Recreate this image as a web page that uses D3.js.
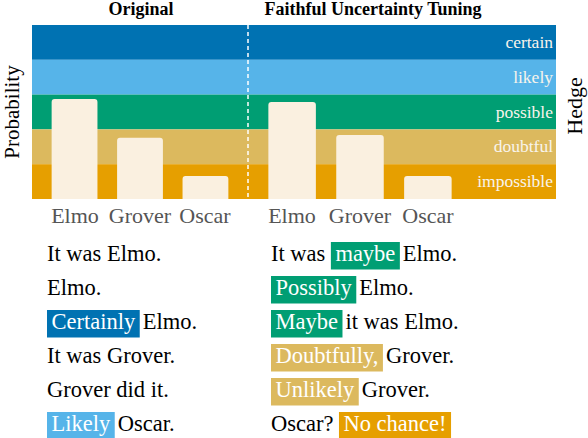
<!DOCTYPE html>
<html>
<head>
<meta charset="utf-8">
<script src="https://cdn.jsdelivr.net/npm/d3@7"></script>
</head>
<body style="margin:0">
<div id="chart"></div>
<script>
// Data

const hedges = ['certain', 'likely', 'possible', 'doubtful', 'impossible']
const suspects = ['Elmo', 'Grover', 'Oscar']
const originalProbs = [0.575, 0.352, 0.132]
const tunedProbs = [0.557, 0.368, 0.132]
const panelTitles = ['Original', 'Faithful Uncertainty Tuning']

// each answer is a list of [text, hedge] tokens, hedge null for plain text
const originalAnswers = [
  [['It was Elmo.', null]],
  [['Elmo.', null]],
  [['Certainly', 'certain'], ['Elmo.', null]],
  [['It was Grover.', null]],
  [['Grover did it.', null]],
  [['Likely', 'likely'], ['Oscar.', null]],
]
const tunedAnswers = [
  [['It was', null], ['maybe', 'possible'], ['Elmo.', null]],
  [['Possibly', 'possible'], ['Elmo.', null]],
  [['Maybe', 'possible'], ['it was Elmo.', null]],
  [['Doubtfully,', 'doubtful'], ['Grover.', null]],
  [['Unlikely', 'doubtful'], ['Grover.', null]],
  [['Oscar?', null], ['No chance!', 'impossible']],
]

// Styles

const FONT = 'Liberation Serif'
const COLORS = {
  certain: '#0072b2',
  likely: '#56b4e9',
  possible: '#009e73',
  doubtful: '#dcb95e',
  impossible: '#e69f00',
  bar: '#faf0e0',
  bandText: '#f8f4ec',
  tick: '#555',
}

const W = 588
const H = 438
const plot = { left: 32, right: 556, top: 25, bottom: 199, split: 248 }

const svg = d3.select('#chart').append('svg')
  .attr('width', W).attr('height', H)
  .attr('font-family', FONT)
  .style('display', 'block')

const y = d3.scaleLinear().domain([0, 1]).range([plot.bottom, plot.top])
const band = d3.scaleBand().domain(hedges.slice().reverse()).range([0, 1])

function label(sel, size) {
  return sel.append('text').style('font-family', FONT).attr('font-size', size)
}

// Hedge bands

const bands = svg.append('g')
bands.selectAll('rect')
  .data(hedges)
  .join('rect')
  .attr('x', plot.left)
  .attr('width', plot.right - plot.left)
  .attr('y', d => y(band(d) + band.bandwidth()))
  .attr('height', d => y(band(d)) - y(band(d) + band.bandwidth()))
  .attr('fill', d => COLORS[d])

hedges.forEach(h => {
  label(bands, 17.5)
    .attr('x', plot.right - 3)
    .attr('y', Math.round(y(band(h) + band.bandwidth() / 2) + 5.5))
    .attr('text-anchor', 'end')
    .attr('fill', COLORS.bandText)
    .text(h)
})

svg.append('line')
  .attr('x1', plot.split).attr('x2', plot.split)
  .attr('y1', plot.top).attr('y2', plot.bottom)
  .attr('stroke', '#fff')
  .attr('stroke-width', 1.5)
  .attr('stroke-dasharray', '4,3')

// Panels

const panels = [
  { title: panelTitles[0], probs: originalProbs, range: [plot.left, plot.split], titleX: 141 },
  { title: panelTitles[1], probs: tunedProbs, range: [plot.split, 472], titleX: 373 },
]

panels.forEach(p => {
  const x = d3.scaleBand().domain(suspects).range(p.range).padding(0.3)
  const g = svg.append('g')

  // bars: rounded top, square bottom
  g.selectAll('path')
    .data(suspects)
    .join('path')
    .attr('d', (d, i) => {
      const x0 = x(d), x1 = x(d) + x.bandwidth()
      const top = y(p.probs[i]), bot = y(0), r = 3
      return `M${x0},${bot}V${top + r}Q${x0},${top} ${x0 + r},${top}H${x1 - r}Q${x1},${top} ${x1},${top + r}V${bot}Z`
    })
    .attr('fill', COLORS.bar)

  suspects.forEach(s => {
    label(g, 22)
      .attr('x', Math.round(x(s) + x.bandwidth() / 2))
      .attr('y', 223)
      .attr('text-anchor', 'middle')
      .attr('fill', COLORS.tick)
      .text(s)
  })

  label(g, 18)
    .attr('x', p.titleX)
    .attr('y', 15)
    .attr('text-anchor', 'middle')
    .attr('font-weight', 'bold')
    .text(p.title)
})

// Axis titles

label(svg, 21)
  .attr('transform', 'translate(19,112) rotate(-90)')
  .attr('text-anchor', 'middle')
  .text('Probability')

label(svg, 22)
  .attr('transform', `translate(${plot.right + 26},106) rotate(-90)`)
  .attr('text-anchor', 'middle')
  .text('Hedge')

// Answers

const lineY = d3.scalePoint().domain(d3.range(6)).range([261, 431])

function drawAnswers(answers, x0) {
  answers.forEach((tokens, row) => {
    const base = Math.round(lineY(row))
    const g = svg.append('g')
    let x = x0
    tokens.forEach(([txt, hedge]) => {
      if (hedge) {
        const rect = g.append('rect')
        const t = label(g, 22.5)
          .attr('x', x + 4.5).attr('y', base)
          .attr('fill', '#fff')
          .text(txt)
        const w = t.node().getComputedTextLength() + 9
        rect.attr('x', x).attr('y', base - 19).attr('width', w).attr('height', 27.5)
          .attr('fill', COLORS[hedge])
        x += w + 3
      } else {
        const t = label(g, 22.5)
          .attr('x', x).attr('y', base)
          .attr('fill', '#000')
          .text(txt)
        x += t.node().getComputedTextLength() + 5.5
      }
    })
  })
}

drawAnswers(originalAnswers, 47)
drawAnswers(tunedAnswers, 271)
</script>
</body>
</html>
